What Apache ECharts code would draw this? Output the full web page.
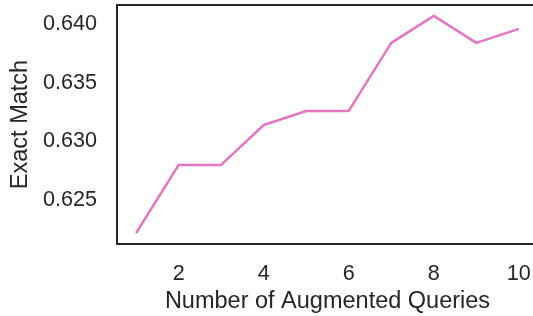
<!DOCTYPE html>
<html>
<head>
<meta charset="utf-8">
<script src="https://cdn.jsdelivr.net/npm/echarts@6/dist/echarts.min.js"></script>
<style>
  html, body {
    margin: 0;
    padding: 0;
    background: #fff;
  }
  #chart {
    width: 533px;
    height: 316px;
  }
</style>
</head>
<body>
<div id="chart"></div>
<script>
// number of augmented queries
let queries = [1, 2, 3, 4, 5, 6, 7, 8, 9, 10];
// exact match values
let exactMatch = [0.6222, 0.628, 0.628, 0.6314, 0.6326, 0.6326, 0.6384, 0.6407, 0.6384, 0.6396];
let xTicks = [2, 4, 6, 8, 10];
let yTicks = [0.625, 0.63, 0.635, 0.64];

let chart = echarts.init(document.getElementById("chart"));
let textColor = "#262626";
let fontFamily = "'Liberation Sans', Arial, sans-serif";

let points = [];
queries.forEach((q, i) => {
  points.push([q, exactMatch[i]]);
});

let option = {
  animation: false,
  grid: {
    left: 117,
    top: 5,
    width: 421,
    height: 239,
    outerBoundsMode: "none",
    containLabel: false,
    show: true,
    borderColor: textColor,
    borderWidth: 2,
  },
  xAxis: {
    type: "value",
    min: 0.55,
    max: 10.45,
    name: "Number of Augmented Queries",
    nameLocation: "middle",
    nameGap: 39,
    nameTextStyle: {
      color: textColor,
      fontSize: 23.5,
      fontFamily: fontFamily,
    },
    axisLine: { show: false },
    axisTick: { show: false },
    splitLine: { show: false },
    axisLabel: {
      customValues: xTicks,
      color: textColor,
      fontSize: 21.6,
      fontFamily: fontFamily,
      margin: 19,
    },
  },
  yAxis: {
    type: "value",
    min: 0.62126,
    max: 0.64163,
    name: "Exact Match",
    nameLocation: "middle",
    nameGap: 80,
    nameTextStyle: {
      color: textColor,
      fontSize: 23.5,
      fontFamily: fontFamily,
    },
    axisLine: { show: false },
    axisTick: { show: false },
    splitLine: { show: false },
    axisLabel: {
      customValues: yTicks,
      formatter: (v) => v.toFixed(3),
      color: textColor,
      fontSize: 21.6,
      fontFamily: fontFamily,
      margin: 20,
    },
  },
  series: [
    {
      type: "line",
      data: points,
      symbol: "none",
      lineStyle: {
        color: "#e377c2",
        width: 2.5,
      },
    },
  ],
};

chart.setOption(option);
</script>
</body>
</html>
